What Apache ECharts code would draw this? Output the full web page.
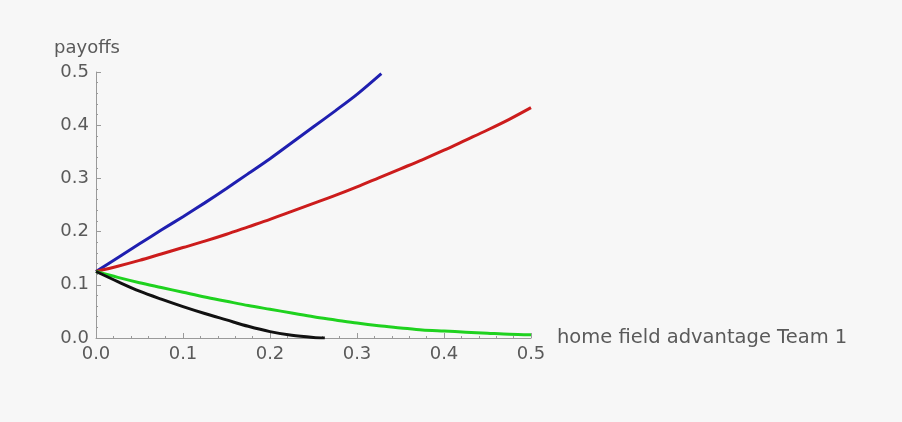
<!DOCTYPE html>
<html>
<head>
<meta charset="utf-8">
<script src="https://cdn.jsdelivr.net/npm/echarts@6/dist/echarts.min.js"></script>
<style>html,body{margin:0;padding:0;background:#f7f7f7;}#c{width:902px;height:422px;}</style>
</head>
<body>
<div id="c"></div>
<script>
var xTicks = [0, 0.1, 0.2, 0.3, 0.4, 0.5];
var yTicks = [0, 0.1, 0.2, 0.3, 0.4, 0.5];
var xAxisName = 'home field advantage Team 1';
var yAxisName = 'payoffs';

var blueX = [0, 0.025, 0.05, 0.075, 0.1, 0.125, 0.15, 0.175, 0.2, 0.225, 0.25, 0.275, 0.3, 0.328];
var blueY = [0.125, 0.151, 0.177, 0.203, 0.228, 0.254, 0.281, 0.309, 0.337, 0.367, 0.397, 0.427, 0.458, 0.497];

var redX = [0, 0.025, 0.05, 0.075, 0.1, 0.125, 0.15, 0.175, 0.2, 0.225, 0.25, 0.275, 0.3, 0.325, 0.35, 0.375, 0.4, 0.425, 0.45, 0.475, 0.5];
var redY = [0.125, 0.135, 0.146, 0.158, 0.170, 0.182, 0.195, 0.209, 0.223, 0.238, 0.253, 0.268, 0.284, 0.301, 0.318, 0.335, 0.353, 0.372, 0.391, 0.411, 0.433];

var greenX = [0, 0.025, 0.05, 0.075, 0.1, 0.125, 0.15, 0.175, 0.2, 0.225, 0.25, 0.275, 0.3, 0.325, 0.35, 0.375, 0.4, 0.425, 0.45, 0.475, 0.5];
var greenY = [0.125, 0.114, 0.104, 0.095, 0.086, 0.077, 0.069, 0.061, 0.054, 0.047, 0.040, 0.034, 0.028, 0.023, 0.019, 0.015, 0.013, 0.011, 0.009, 0.007, 0.006];

var blackX = [0, 0.025, 0.05, 0.075, 0.1, 0.125, 0.15, 0.175, 0.2, 0.225, 0.25, 0.263];
var blackY = [0.125, 0.106, 0.088, 0.073, 0.059, 0.046, 0.034, 0.022, 0.012, 0.005, 0.001, 0.0];

function zip(xs, ys) { return xs.map(function (x, i) { return [x, ys[i]]; }); }

var font = '"DejaVu Sans", sans-serif';
var axisColor = '#9a9a9a';
var labelColor = '#5a5a5a';

var chart = echarts.init(document.getElementById('c'), null, {renderer: 'canvas'});
function lineSeries(name, xs, ys, color) {
  return {
    name: name, type: 'line', data: zip(xs, ys), showSymbol: false, smooth: 0.3,
    lineStyle: {color: color, width: 3}, animation: false, z: 3
  };
}
chart.setOption({
  backgroundColor: '#f7f7f7',
  animation: false,
  grid: {left: 96, right: 371, top: 72, bottom: 84, containLabel: false},
  xAxis: {
    type: 'value', min: xTicks[0], max: xTicks[xTicks.length - 1], interval: 0.1,
    name: xAxisName, nameLocation: 'end', nameGap: 26,
    nameTextStyle: {color: labelColor, fontFamily: font, fontSize: 19.5, verticalAlign: 'middle'},
    axisLine: {show: true, lineStyle: {color: axisColor, width: 1}},
    axisTick: {show: true, inside: true, length: 5, lineStyle: {color: axisColor}},
    minorTick: {show: true, splitNumber: 5, length: 2, lineStyle: {color: axisColor}},
    splitLine: {show: false},
    axisLabel: {color: labelColor, fontFamily: font, fontSize: 18, margin: 7,
      formatter: function (v) { return v.toFixed(1); }}
  },
  yAxis: {
    type: 'value', min: yTicks[0], max: yTicks[yTicks.length - 1], interval: 0.1,
    name: yAxisName, nameLocation: 'end', nameGap: 15,
    nameTextStyle: {color: labelColor, fontFamily: font, fontSize: 18, align: 'center', padding: [0, 18, 0, 0]},
    axisLine: {show: true, lineStyle: {color: axisColor, width: 1}},
    axisTick: {show: true, inside: true, length: 5, lineStyle: {color: axisColor}},
    minorTick: {show: true, splitNumber: 5, length: 2, lineStyle: {color: axisColor}},
    splitLine: {show: false},
    axisLabel: {color: labelColor, fontFamily: font, fontSize: 18, margin: 7,
      formatter: function (v) { return v.toFixed(1); }}
  },
  series: [
    lineSeries('blue', blueX, blueY, '#1f1fb0'),
    lineSeries('red', redX, redY, '#cc1c1c'),
    lineSeries('green', greenX, greenY, '#1fd21f'),
    lineSeries('black', blackX, blackY, '#111111')
  ]
});
</script>
</body>
</html>
